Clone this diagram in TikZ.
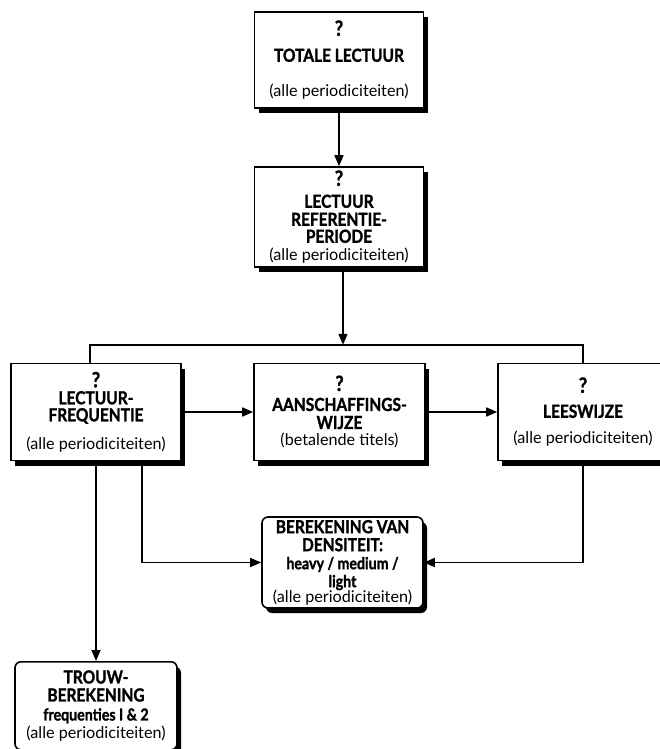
\documentclass[tikz,border=0pt]{standalone}
\usepackage{fontspec}
\setmainfont{Lato}
\newfontfamily\smalfont[FakeStretch=0.86, BoldFeatures={FakeBold=1.4}]{Lato}
\usetikzlibrary{arrows.meta, shadows, calc}

\newcommand{\kop}{\smalfont\bfseries\fontsize{18}{18}\selectfont}
\newcommand{\klein}{\smalfont\bfseries\fontsize{16.5}{18}\selectfont}
\newcommand{\perio}{\normalfont\fontsize{16.2}{18}\selectfont}
\newcommand{\vraag}{{\fontsize{21}{18}\selectfont ?}}

\tikzset{
	kader/.style={draw, line width=1.6pt, fill=white, inner sep=0pt, align=center,
		minimum width=170pt, minimum height=97pt, font=\kop,
		drop shadow={shadow xshift=4pt, shadow yshift=-5pt, fill=black, opacity=1}},
	rondkader/.style={kader, rounded corners=6pt},
	pijl/.style={line width=1.6pt, -{Triangle[length=11pt,width=9pt]}},
	lijn/.style={line width=1.6pt}
}

\begin{document}
\begin{tikzpicture}[x=1pt, y=-1pt]
	\useasboundingbox (0,0) rectangle (660,749);

	% bovenste twee kaders
	\node [kader, minimum width=169pt, minimum height=96pt] (totaal) at (339,60)
		{\vraag\\[8pt] TOTALE LECTUUR\\[17pt] \perio (alle periodiciteiten)};
	\node [kader, minimum width=169pt, minimum height=100pt] (referentie) at (339,217)
		{\vraag\\[4pt] LECTUUR\\ REFERENTIE-\\[-1pt] PERIODE\\ \perio (alle periodiciteiten)};

	% middelste rij
	\node [kader] (frequentie) at (96,412)
		{\vraag\\[-1pt] LECTUUR-\\[-1pt] FREQUENTIE\\[10pt] \perio (alle periodiciteiten)};
	\node [kader, minimum width=171pt] (wijze) at (339.5,412)
		{\vraag\\[2pt] AANSCHAFFINGS-\\ WIJZE\\[-1pt] \perio (betalende titels)};
	\node [kader] (leeswijze) at (583,412)
		{\vraag\\[7pt] LEESWIJZE\\[8pt] \perio (alle periodiciteiten)};

	% onderste kaders
	\node [rondkader, minimum width=161pt, minimum height=91pt] (densiteit) at (342.5,562.5)
		{BEREKENING VAN\\ DENSITEIT:\\ \klein heavy / medium /\\ \klein light\\[-3pt] \perio (alle periodiciteiten)};
	\node [rondkader, minimum width=162pt, minimum height=88pt, anchor=north] (trouw) at (96,661)
		{TROUW-\\ BEREKENING\\[1pt] \klein frequenties I \& 2\\ \perio (alle periodiciteiten)};

	\coordinate (splitsing) at ($(referentie.south)+(4,77)$);

	\draw [pijl] (totaal) -- (referentie);
	\draw [pijl] ([xshift=4pt]referentie.south) -- (splitsing);
	\draw [lijn] ([xshift=-6pt]frequentie.north) |- (splitsing) -| (leeswijze.north);

	\draw [pijl] (frequentie) -- (wijze);
	\draw [pijl] (wijze) -- (leeswijze);

	\draw [pijl] ([xshift=46pt]frequentie.south) |- (densiteit);
	\draw [pijl] (leeswijze.south) |- (densiteit);
	\draw [pijl] (frequentie.south) -- (trouw.north);
\end{tikzpicture}
\end{document}
